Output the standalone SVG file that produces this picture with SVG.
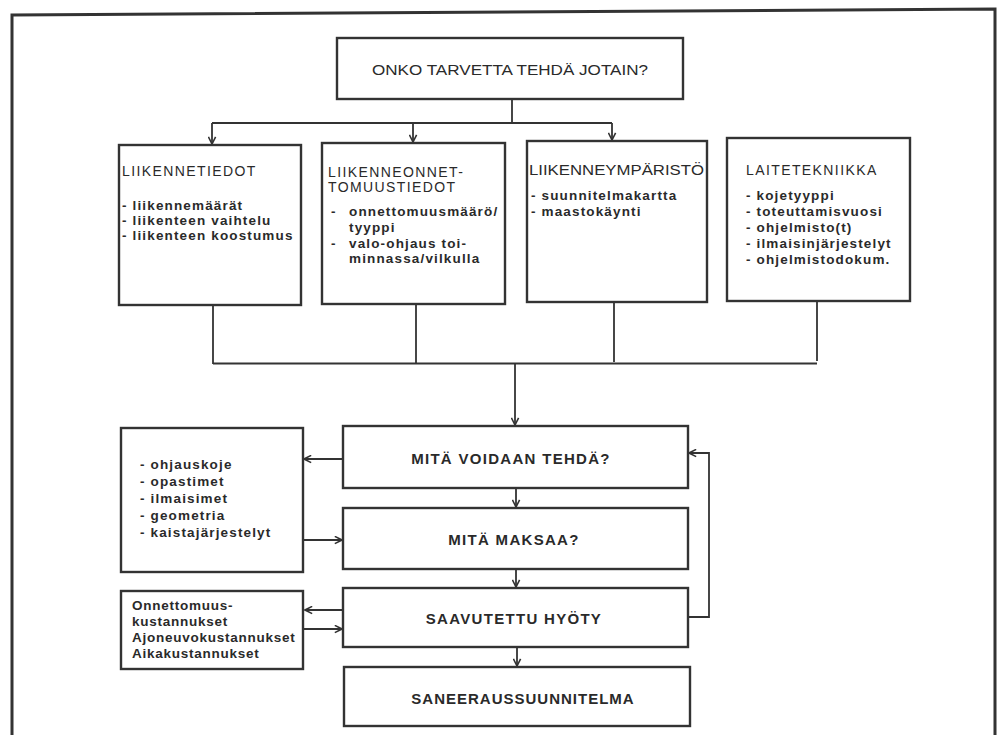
<svg xmlns="http://www.w3.org/2000/svg" width="1007" height="735" viewBox="0 0 1007 735">
<defs>
<marker id="arr" viewBox="0 0 10 10" refX="9" refY="5" markerWidth="9" markerHeight="9" markerUnits="userSpaceOnUse" orient="auto">
<path d="M1,1 L9,5 L1,9" fill="none" stroke="#333" stroke-width="1.8"/>
</marker>
<style>
.box{fill:#fff;stroke:#333;stroke-width:2.4}
.ln{fill:none;stroke:#333;stroke-width:1.8}
.ttl{font-family:"Liberation Sans",Arial,sans-serif;font-size:14px;letter-spacing:1.4px;fill:#2a2a2a}
.it{font-family:"Liberation Sans",Arial,sans-serif;font-size:13.5px;font-weight:bold;letter-spacing:1.15px;fill:#2a2a2a}
.kt{letter-spacing:0.75px}
.mn{font-family:"Liberation Sans",Arial,sans-serif;font-size:15px;font-weight:bold;letter-spacing:1.3px;fill:#2a2a2a;text-anchor:middle}
</style>
</defs>
<rect width="1007" height="735" fill="#fff"/>
<path d="M12,740 L12,15 L995,9 L995,740" fill="none" stroke="#333" stroke-width="3"/>

<g id="connectors">
<path class="ln" d="M512,99 V123 M212,123 H612"/>
<path class="ln" d="M212,123 V144" marker-end="url(#arr)"/>
<path class="ln" d="M413,123 V142" marker-end="url(#arr)"/>
<path class="ln" d="M612,123 V140" marker-end="url(#arr)"/>
<path class="ln" d="M213,305 V364 M416,304 V363 M614,302 V362 M817,301 V361 M213,363.5 H817"/>
<path class="ln" d="M515,363 V425" marker-end="url(#arr)"/>
<path class="ln" d="M516,488 V507" marker-end="url(#arr)"/>
<path class="ln" d="M516,569 V587" marker-end="url(#arr)"/>
<path class="ln" d="M517,647 V666" marker-end="url(#arr)"/>
<path class="ln" d="M343,459 H304" marker-end="url(#arr)"/>
<path class="ln" d="M303,540 H342" marker-end="url(#arr)"/>
<path class="ln" d="M343,610 H305" marker-end="url(#arr)"/>
<path class="ln" d="M304,629 H342" marker-end="url(#arr)"/>
<path class="ln" d="M688,617 H709 V453 H689" marker-end="url(#arr)"/>
</g>

<g id="n-start">
<rect class="box" x="337" y="38" width="346" height="61"/>
<text class="ttl" x="372" y="75" textLength="276" lengthAdjust="spacingAndGlyphs" style="letter-spacing:0">ONKO TARVETTA TEHDÄ JOTAIN?</text>
</g>

<g id="n-liikennetiedot">
<rect class="box" x="119" y="145" width="182" height="160"/>
<text class="ttl" x="122" y="176">LIIKENNETIEDOT</text>
<text class="it" x="122" y="210">- liikennemäärät</text>
<text class="it" x="122" y="225">- liikenteen vaihtelu</text>
<text class="it" x="122" y="240">- liikenteen koostumus</text>
</g>

<g id="n-onnettomuus">
<rect class="box" x="322" y="143" width="183" height="161"/>
<text class="ttl" x="328" y="177">LIIKENNEONNET-</text>
<text class="ttl" x="328" y="192">TOMUUSTIEDOT</text>
<text class="it" x="331" y="216">-</text>
<text class="it" x="349" y="216">onnettomuusmäärö/</text>
<text class="it" x="349" y="232">tyyppi</text>
<text class="it" x="331" y="248">-</text>
<text class="it" x="349" y="248">valo-ohjaus toi-</text>
<text class="it" x="349" y="263">minnassa/vilkulla</text>
</g>

<g id="n-ymparisto">
<rect class="box" x="527" y="141" width="180" height="161"/>
<text class="ttl" x="529" y="175" textLength="175" lengthAdjust="spacingAndGlyphs" style="letter-spacing:0">LIIKENNEYMPÄRISTÖ</text>
<text class="it" x="531" y="200">- suunnitelmakartta</text>
<text class="it" x="531" y="216">- maastokäynti</text>
</g>

<g id="n-laitetekniikka">
<rect class="box" x="727" y="138" width="183" height="163"/>
<text class="ttl" x="746" y="175">LAITETEKNIIKKA</text>
<text class="it" x="746" y="200">- kojetyyppi</text>
<text class="it" x="746" y="216">- toteuttamisvuosi</text>
<text class="it" x="746" y="232">- ohjelmisto(t)</text>
<text class="it" x="746" y="248">- ilmaisinjärjestelyt</text>
<text class="it" x="746" y="264">- ohjelmistodokum.</text>
</g>

<g id="n-voidaan">
<rect class="box" x="343" y="426" width="345" height="62"/>
<text class="mn" x="511" y="464">MITÄ VOIDAAN TEHDÄ?</text>
</g>

<g id="n-maksaa">
<rect class="box" x="343" y="508" width="345" height="61"/>
<text class="mn" x="514" y="545">MITÄ MAKSAA?</text>
</g>

<g id="n-hyoty">
<rect class="box" x="343" y="588" width="345" height="59"/>
<text class="mn" x="514" y="624">SAAVUTETTU HYÖTY</text>
</g>

<g id="n-saneeraus">
<rect class="box" x="344" y="667" width="346" height="59"/>
<text class="mn" x="523" y="704" style="letter-spacing:1px">SANEERAUSSUUNNITELMA</text>
</g>

<g id="n-keinot">
<rect class="box" x="121" y="428" width="182" height="144"/>
<text class="it" x="140" y="469">- ohjauskoje</text>
<text class="it" x="140" y="486">- opastimet</text>
<text class="it" x="140" y="503">- ilmaisimet</text>
<text class="it" x="140" y="520">- geometria</text>
<text class="it" x="140" y="537">- kaistajärjestelyt</text>
</g>

<g id="n-kustannukset">
<rect class="box" x="121" y="591" width="182" height="78"/>
<text class="it kt" x="132" y="610">Onnettomuus-</text>
<text class="it kt" x="132" y="626">kustannukset</text>
<text class="it kt" x="132" y="642">Ajoneuvokustannukset</text>
<text class="it kt" x="132" y="658">Aikakustannukset</text>
</g>
</svg>
